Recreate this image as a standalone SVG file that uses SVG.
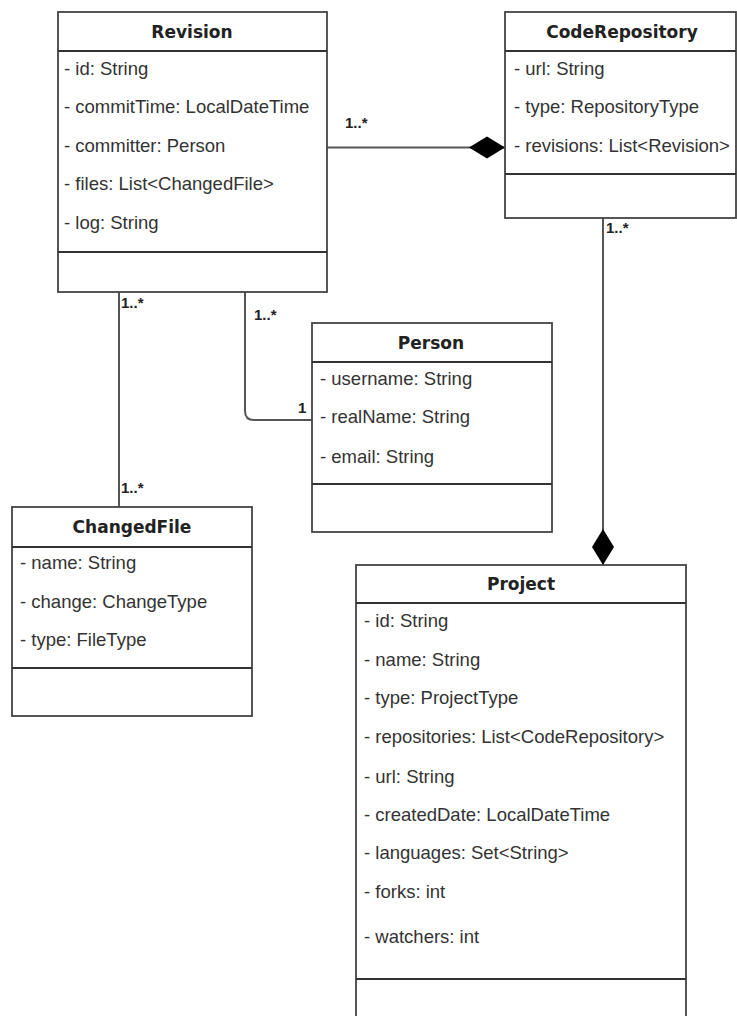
<svg xmlns="http://www.w3.org/2000/svg" width="737" height="1016" viewBox="0 0 737 1016">
<style>
.box{fill:#fff;stroke:#444;stroke-width:1.8}
.sep{stroke:#333;stroke-width:1.8}
.title{font-family:"DejaVu Sans",Verdana,sans-serif;font-weight:bold;font-size:17px;fill:#222;text-anchor:middle}
.attr{font-family:"Liberation Sans",Arial,sans-serif;font-size:18.5px;fill:#333}
.lbl{font-family:"Liberation Sans",Arial,sans-serif;font-weight:bold;font-size:15px;fill:#222}
.conn{fill:none;stroke:#555;stroke-width:2}
</style>
<defs>
<marker id="diamond" viewBox="0 0 38 24" refX="37" refY="12" markerWidth="38" markerHeight="24" markerUnits="userSpaceOnUse" orient="auto">
<path d="M1,12 L19,1 L37,12 L19,23 Z" fill="#000"/>
</marker>
</defs>
<rect width="737" height="1016" fill="#fff"/>
<g id="connectors">
<path class="conn" d="M327,147.5 L505,147.5" marker-end="url(#diamond)"/>
<path class="conn" d="M603,218 L603,565" marker-end="url(#diamond)"/>
<path class="conn" d="M119,292 L119,507"/>
<path class="conn" d="M245,292 L245,411 Q245,420 254,420 L312,420"/>
<text class="lbl" x="345" y="128">1..*</text>
<text class="lbl" x="606" y="233">1..*</text>
<text class="lbl" x="121" y="308">1..*</text>
<text class="lbl" x="121" y="493">1..*</text>
<text class="lbl" x="254" y="320">1..*</text>
<text class="lbl" x="298" y="413">1</text>
</g>
<g id="revision">
<rect class="box" x="58" y="12" width="269" height="280"/>
<line class="sep" x1="58" y1="51" x2="327" y2="51"/>
<line class="sep" x1="58" y1="252" x2="327" y2="252"/>
<text class="title" x="192" y="38">Revision</text>
<text class="attr" x="64" y="75">- id: String</text>
<text class="attr" x="64" y="113">- commitTime: LocalDateTime</text>
<text class="attr" x="64" y="152">- committer: Person</text>
<text class="attr" x="64" y="190">- files: List&lt;ChangedFile&gt;</text>
<text class="attr" x="64" y="229">- log: String</text>
</g>
<g id="coderepository">
<rect class="box" x="505" y="12" width="231" height="206"/>
<line class="sep" x1="505" y1="51" x2="736" y2="51"/>
<line class="sep" x1="505" y1="174" x2="736" y2="174"/>
<text class="title" x="622" y="38">CodeRepository</text>
<text class="attr" x="514" y="75">- url: String</text>
<text class="attr" x="514" y="113">- type: RepositoryType</text>
<text class="attr" x="514" y="152">- revisions: List&lt;Revision&gt;</text>
</g>
<g id="person">
<rect class="box" x="312" y="323" width="240" height="209"/>
<line class="sep" x1="312" y1="362" x2="552" y2="362"/>
<line class="sep" x1="312" y1="484" x2="552" y2="484"/>
<text class="title" x="431" y="349">Person</text>
<text class="attr" x="320" y="385">- username: String</text>
<text class="attr" x="320" y="423">- realName: String</text>
<text class="attr" x="320" y="463">- email: String</text>
</g>
<g id="changedfile">
<rect class="box" x="12" y="507" width="240" height="209"/>
<line class="sep" x1="12" y1="547" x2="252" y2="547"/>
<line class="sep" x1="12" y1="668" x2="252" y2="668"/>
<text class="title" x="132" y="533">ChangedFile</text>
<text class="attr" x="20" y="569">- name: String</text>
<text class="attr" x="20" y="608">- change: ChangeType</text>
<text class="attr" x="20" y="646">- type: FileType</text>
</g>
<g id="project">
<rect class="box" x="356" y="565" width="330" height="470"/>
<line class="sep" x1="356" y1="603" x2="686" y2="603"/>
<line class="sep" x1="356" y1="979" x2="686" y2="979"/>
<text class="title" x="521" y="590">Project</text>
<text class="attr" x="364" y="627">- id: String</text>
<text class="attr" x="364" y="666">- name: String</text>
<text class="attr" x="364" y="704">- type: ProjectType</text>
<text class="attr" x="364" y="743">- repositories: List&lt;CodeRepository&gt;</text>
<text class="attr" x="364" y="783">- url: String</text>
<text class="attr" x="364" y="821">- createdDate: LocalDateTime</text>
<text class="attr" x="364" y="859">- languages: Set&lt;String&gt;</text>
<text class="attr" x="364" y="898">- forks: int</text>
<text class="attr" x="364" y="943">- watchers: int</text>
</g>
</svg>
